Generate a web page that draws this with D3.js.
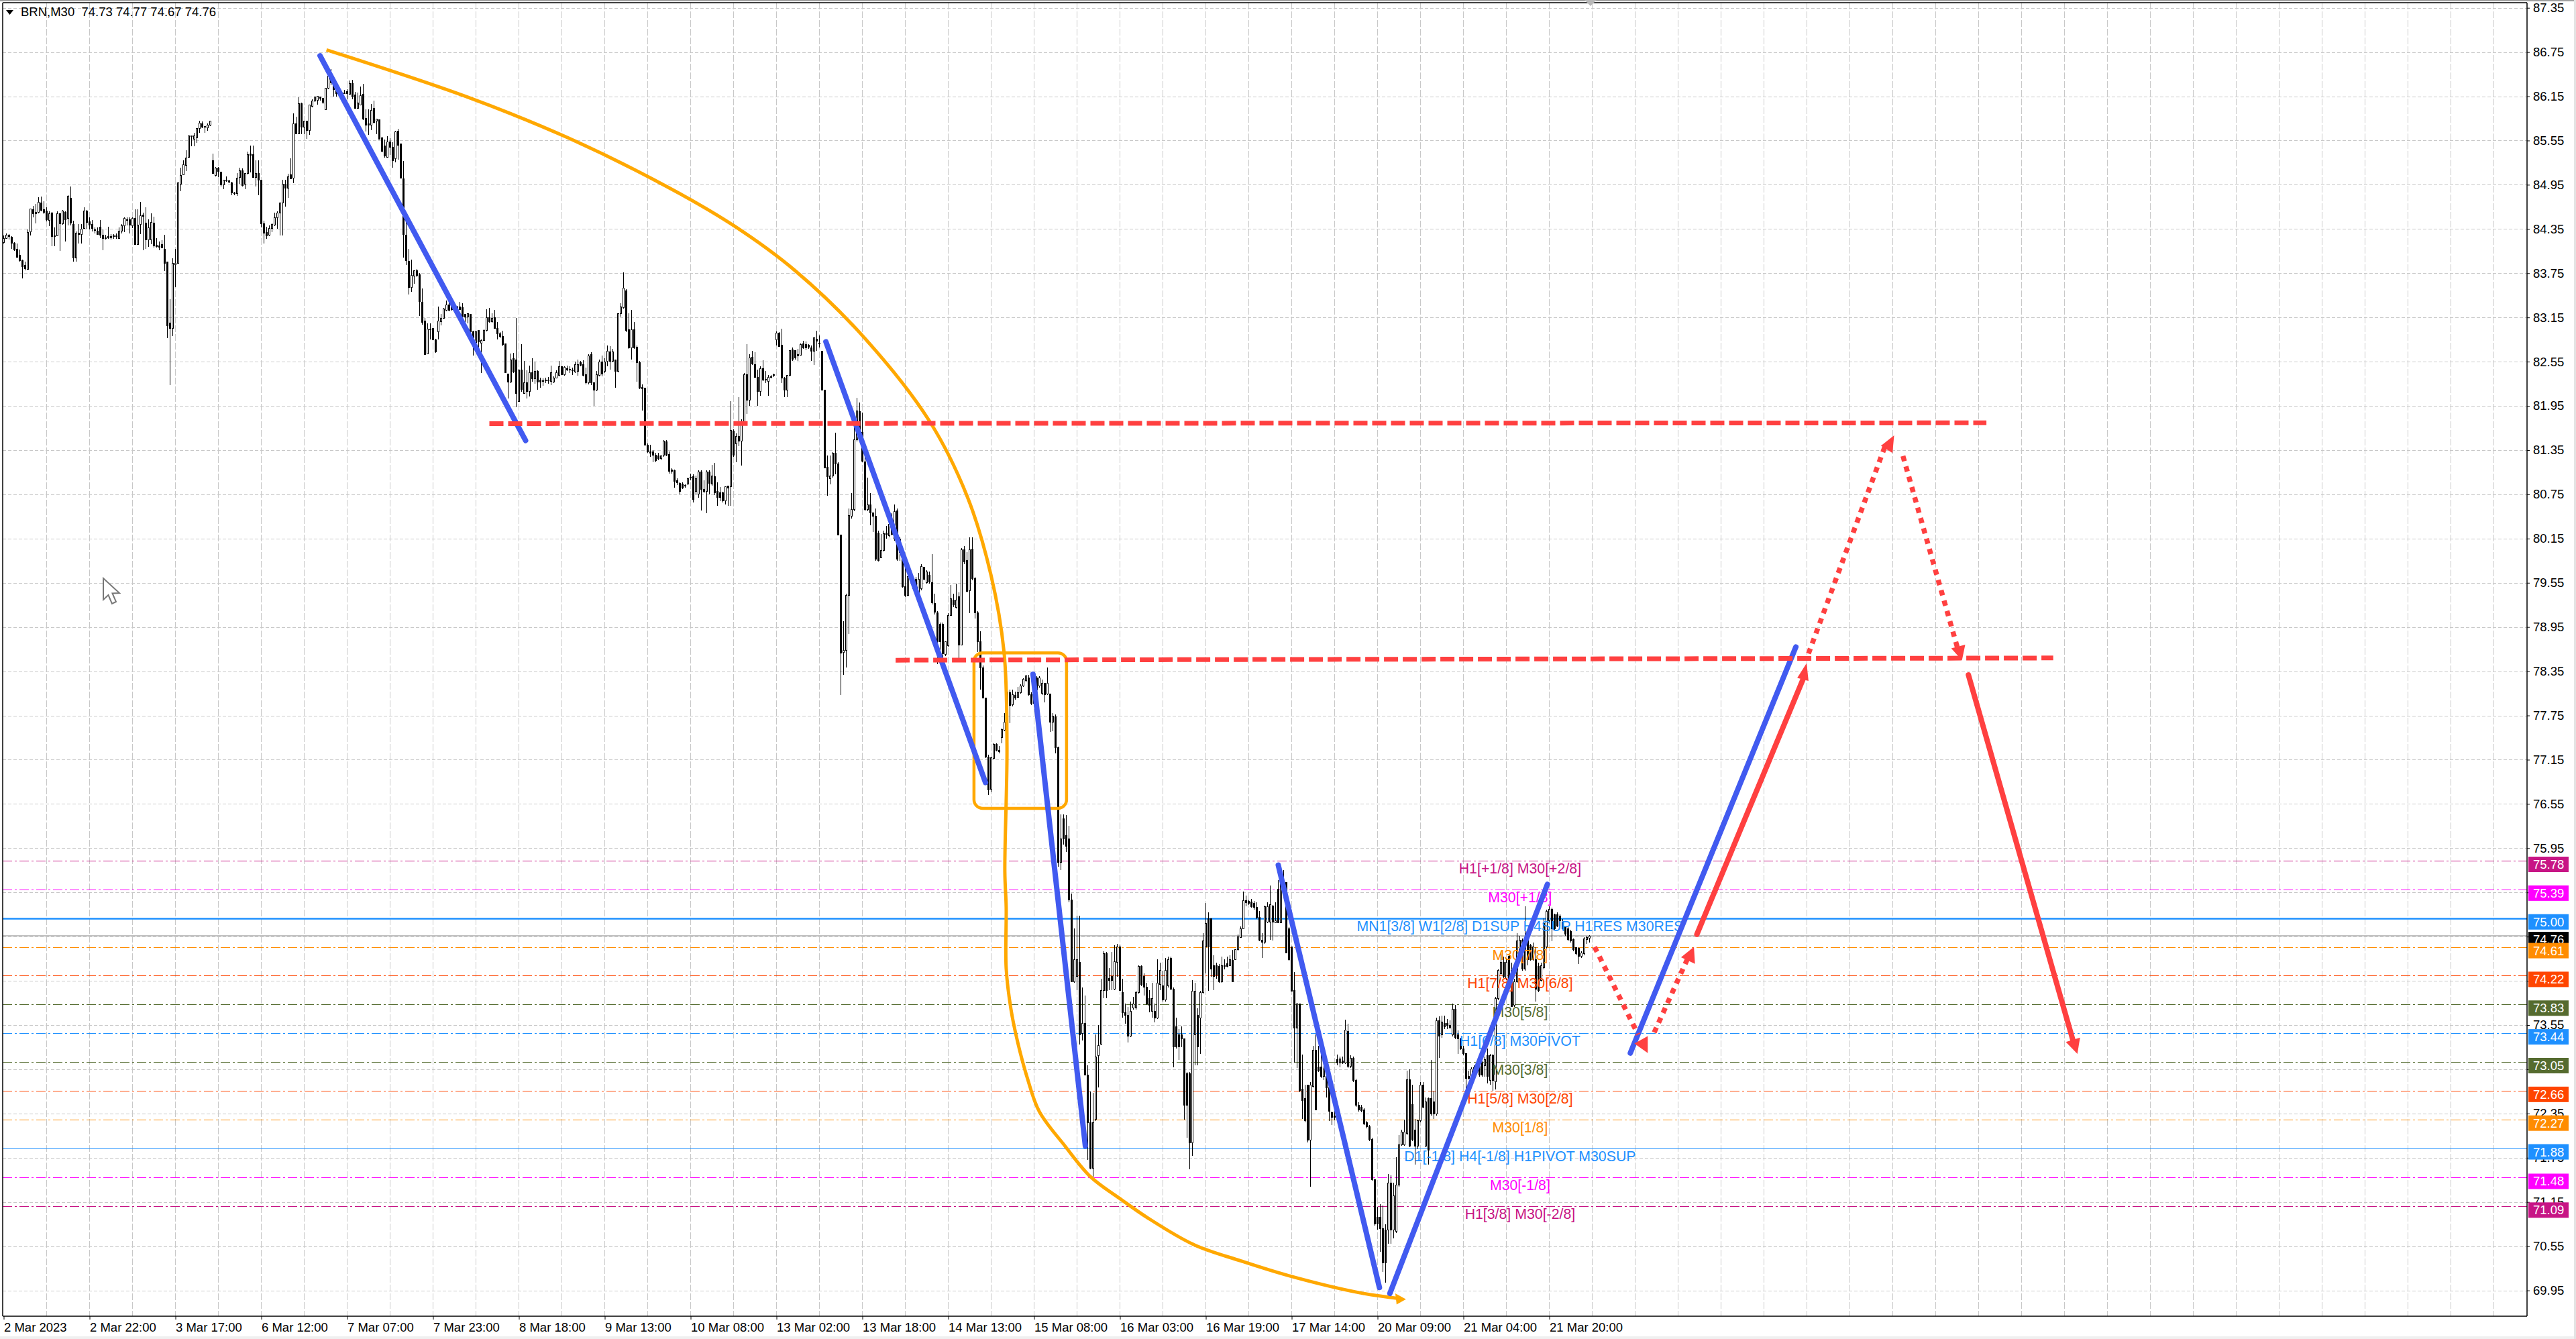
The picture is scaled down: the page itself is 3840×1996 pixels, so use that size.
<!DOCTYPE html>
<html><head><meta charset="utf-8">
<script src="https://cdn.jsdelivr.net/npm/d3@7/dist/d3.min.js"></script>
<style>html,body{margin:0;padding:0;background:#fff}svg{display:block}text{font-family:"Liberation Sans",Arial,sans-serif}</style>
</head><body><div id="c"></div>
<script>
// OHLC in cents: o,h,l,c per M30 bar
const barsMar2to3=[8417,8426,8415,8422,8422,8429,8422,8427,8427,8428,8421,8425,8424,8425,8408,8416,8416,8417,8405,8407,8408,8415,8396,8397,8399,8407,8391,8392,8392,8393,8368,8384,8386,8391,8379,8381,8380,8434,8380,8430,8431,8463,8426,8462,8461,8466,8451,8456,8458,8469,8443,8456,8458,8478,8456,8471,8470,8479,8459,8460,8461,8473,8455,8458,8459,8464,8445,8448,8447,8459,8439,8456,8457,8458,8412,8425,8426,8437,8412,8425,8426,8459,8426,8456,8456,8456,8405,8442,8442,8461,8441,8459,8458,8459,8418,8448,8449,8481,8440,8479,8477,8493,8440,8443,8441,8446,8391,8396,8396,8432,8391,8429,8429,8442,8415,8428,8428,8442,8415,8435,8436,8464,8435,8459,8459,8461,8435,8444,8445,8451,8434,8440,8441,8447,8432,8436,8434,8437,8429,8433,8432,8437,8428,8428,8438,8447,8423,8427,8427,8434,8406,8422,8423,8427,8421,8422,8425,8438,8422,8423,8423,8428,8421,8425,8425,8428,8422,8426,8426,8429,8422,8425,8422,8437,8422,8432,8432,8442,8429,8439,8439,8451,8431,8449,8448,8451,8440,8447,8448,8451,8429,8440,8439,8451,8436,8449,8449,8462,8414,8414,8414,8462,8414,8440,8441,8472,8428,8453,8454,8457,8406,8452,8443,8464,8408,8420,8420,8448,8411,8437,8420,8456,8414,8444,8443,8452,8410,8412,8413,8423,8410,8411,8412,8418,8406,8410,8414,8420,8409,8409,8408,8427,8378,8388,8390,8390,8287,8304,8307,8340,8223,8300,8300,8395,8290,8388,8387,8408,8356,8388,8388,8498,8388,8498,8496,8518,8486,8508,8509,8528,8508,8522,8521,8542,8514,8531,8532,8561,8532,8561,8561,8562,8547,8560,8557,8565,8547,8561,8559,8571,8552,8571,8571,8582,8565,8579,8578,8581,8572,8573,8574,8575,8565,8573,8572,8578,8568,8576,8576,8581,8575,8581];
const barsMar6to10=[8528,8537,8510,8510,8508,8519,8506,8518,8518,8519,8505,8513,8512,8512,8493,8495,8495,8502,8489,8501,8501,8506,8499,8500,8500,8502,8497,8499,8498,8499,8481,8484,8484,8485,8481,8483,8483,8511,8480,8504,8505,8518,8496,8514,8514,8517,8493,8494,8496,8511,8489,8510,8510,8540,8509,8536,8537,8548,8512,8535,8536,8548,8505,8505,8505,8528,8493,8510,8510,8528,8481,8501,8501,8501,8437,8442,8442,8446,8415,8429,8430,8438,8422,8426,8427,8440,8425,8436,8436,8443,8431,8441,8440,8457,8439,8450,8450,8459,8435,8457,8457,8471,8426,8470,8470,8502,8426,8496,8496,8502,8465,8490,8490,8510,8477,8506,8509,8531,8503,8503,8504,8592,8497,8578,8578,8587,8564,8564,8564,8614,8564,8605,8605,8606,8564,8573,8573,8582,8564,8581,8581,8582,8557,8569,8569,8603,8563,8603,8601,8611,8600,8609,8609,8615,8607,8614,8610,8615,8604,8615,8614,8615,8609,8612,8612,8612,8605,8607,8597,8626,8597,8626,8626,8652,8625,8642,8642,8652,8630,8633,8630,8636,8615,8624,8625,8628,8615,8619,8620,8623,8615,8617,8620,8621,8613,8618,8620,8624,8618,8619,8621,8625,8611,8619,8618,8636,8617,8632,8632,8637,8611,8614,8617,8621,8599,8599,8599,8620,8598,8606,8603,8628,8603,8616,8618,8632,8583,8584,8585,8597,8567,8576,8578,8597,8563,8576,8576,8605,8569,8596,8599,8609,8578,8580,8581,8585,8564,8584,8583,8584,8557,8557,8559,8560,8539,8540,8548,8556,8532,8534,8532,8561,8532,8553,8553,8558,8535,8546,8546,8553,8518,8528,8530,8568,8525,8567,8568,8571,8529,8549,8550,8550,8504,8504,8503,8527,8396,8428,8427,8457,8386,8392,8391,8408,8346,8356,8356,8393,8350,8372,8371,8379,8361,8378,8378,8381,8370,8372,8373,8375,8317,8337,8336,8354,8305,8308,8310,8314,8265,8265,8266,8307,8266,8299,8298,8307,8285,8299,8300,8301,8284,8285,8285,8286,8267,8268,8296,8330,8285,8310,8309,8320,8304,8314,8314,8328,8313,8327,8325,8338,8323,8332,8332,8336,8323,8325,8331,8337,8324,8326,8329,8332,8326,8327,8327,8331,8325,8329,8329,8336,8325,8326,8328,8334,8311,8316,8319,8320,8308,8316,8316,8320,8307,8320,8319,8320,8285,8296,8296,8297,8263,8287,8281,8297,8273,8296,8297,8297,8273,8282,8280,8285,8240,8284,8284,8299,8283,8297,8297,8326,8296,8315,8315,8328,8308,8309,8309,8321,8308,8314,8315,8325,8300,8300,8300,8309,8285,8293,8293,8295,8287,8289,8289,8297,8276,8278,8279,8280,8240,8240,8238,8238,8205,8227,8227,8266,8226,8257,8259,8267,8240,8241,8257,8314,8193,8212,8201,8244,8201,8244,8244,8279,8214,8217,8212,8256,8211,8226,8226,8243,8205,8215,8215,8250,8208,8240,8240,8260,8228,8232,8232,8255,8225,8242,8242,8243,8217,8227,8230,8233,8220,8227,8229,8232,8222,8228,8229,8233,8226,8230,8230,8234,8225,8229,8228,8250,8223,8240,8227,8235,8226,8233,8233,8243,8232,8240,8236,8256,8235,8248,8248,8249,8237,8237,8237,8249,8236,8247,8246,8250,8242,8244,8245,8249,8240,8244,8244,8247,8237,8243,8241,8255,8240,8251,8242,8258,8236,8251,8254,8256,8249,8250,8251,8257,8235,8236,8237,8247,8224,8226,8226,8265,8224,8263,8265,8268,8223,8226,8226,8226,8195,8216,8216,8242,8215,8237,8236,8258,8235,8255,8255,8263,8235,8238,8242,8260,8240,8255,8256,8277,8249,8269,8268,8276,8244,8256,8256,8272,8254,8268,8257,8257,8220,8242,8242,8321,8241,8320,8320,8334,8316,8329,8328,8376,8327,8355,8351,8353,8295,8297,8298,8321,8272,8274,8274,8325,8258,8298,8298,8309,8272,8274,8275,8277,8228,8254,8254,8256,8218,8219,8220,8224,8189,8218,8219,8219,8142,8142,8142,8144,8131,8133,8133,8142,8126,8131,8133,8135,8119,8128,8128,8131,8119,8121,8127,8131,8121,8124,8124,8128,8121,8127,8128,8149,8126,8147,8146,8149,8127,8128,8129,8133,8103,8106,8108,8110,8103,8106,8107,8109,8084,8093,8094,8097,8088,8091,8090,8091,8075,8079,8089,8091,8082,8084,8087,8089,8084,8086,8089,8098,8088,8096,8097,8103,8094,8098,8099,8102,8064,8068,8079,8100,8075,8096,8075,8108,8070,8105,8105,8108,8053,8082,8082,8094,8077,8079,8079,8108,8049,8105,8105,8108,8075,8090,8089,8115,8087,8100,8099,8118,8074,8077,8079,8091,8059,8071,8077,8085,8066,8071,8077,8079,8064,8066,8066,8085,8061,8085,8086,8087,8059,8084,8085,8201,8059,8162,8161,8163,8126,8128,8144,8158,8119,8154,8154,8207,8140,8147,8147,8177,8114,8174,8174,8240,8172,8237,8237,8279,8184,8203,8203,8265,8195,8260,8261,8270,8251,8252,8251,8268,8233,8234,8234,8244,8195,8215,8215,8249,8209,8246,8246,8257,8229,8230,8231,8242,8226,8230,8228,8237,8209,8234,8235,8237,8232,8234,8236,8239,8234,8237];
const barsMar13to17=[8285,8296,8277,8294,8294,8295,8275,8276,8277,8300,8226,8233,8233,8234,8207,8216,8216,8237,8207,8236,8236,8271,8235,8270,8271,8274,8256,8258,8270,8271,8258,8260,8265,8272,8256,8263,8264,8280,8263,8278,8279,8283,8272,8274,8278,8282,8271,8274,8277,8279,8272,8275,8274,8277,8256,8269,8269,8288,8251,8287,8286,8297,8270,8283,8280,8291,8274,8279,8269,8270,8216,8216,8216,8216,8110,8111,8112,8128,8073,8099,8096,8128,8089,8100,8100,8132,8098,8131,8131,8159,8102,8116,8116,8119,8020,8020,8020,8020,7803,7860,7861,7903,7830,7863,7863,7940,7840,7938,7938,8056,7886,8046,8045,8077,8042,8054,8054,8168,8052,8149,8149,8206,8147,8188,8187,8200,8149,8152,8159,8186,8119,8120,8119,8126,8052,8054,8054,8098,8052,8061,8061,8077,8033,8050,8050,8050,8024,8045,8045,8056,7985,7987,8023,8026,7984,7985,7989,8021,7988,7999,7999,8026,7998,8022,8023,8032,8015,8020,8019,8039,8017,8034,8033,8049,8019,8021,8014,8061,8012,8052,8053,8056,7985,7987,8014,8017,7985,7996,8001,8003,7948,7950,7950,7987,7936,7938,7938,7977,7937,7963,7963,7972,7956,7960,7960,7963,7945,7947,7960,7963,7950,7951,7942,7968,7940,7960,7947,7980,7945,7977,7976,7977,7958,7960,7955,7972,7954,7970,7965,7970,7954,7956,7955,7994,7926,7928,7927,7940,7912,7915,7914,7917,7845,7875,7899,7901,7859,7875,7899,7901,7847,7859,7858,7875,7856,7875,7870,7914,7868,7911,7911,7952,7910,7933,7932,7940,7922,7925,7922,7954,7920,7932,7936,7942,7851,7871,7871,8002,7870,8000,8000,8005,7980,7983,7985,7997,7942,7943,7944,8017,7914,8000,8001,8017,7958,7961,7961,7963,7907,7914,7914,7917,7861,7875,7875,7889,7810,7840,7840,7843,7799,7799,7799,7799,7717,7719,7719,7722,7667,7674,7675,7719,7671,7718,7717,7737,7715,7736,7736,7737,7726,7728,7728,7734,7724,7726,7745,7757,7737,7756,7755,7778,7754,7766,7764,7815,7763,7807,7806,7810,7765,7789,7790,7810,7787,7803,7802,7807,7796,7799,7800,7814,7799,7806,7806,7817,7805,7815,7815,7826,7814,7824,7822,7830,7820,7829,7826,7830,7802,7803,7803,7806,7789,7791,7791,7826,7789,7805,7826,7828,7805,7810,7815,7828,7813,7826,7805,7824,7803,7819,7819,7819,7793,7803,7804,7840,7803,7819,7804,7805,7753,7766,7766,7778,7754,7774,7773,7776,7724,7731,7731,7733,7570,7576,7576,7641,7565,7608,7635,7641,7600,7608,7612,7640,7590,7598,7608,7625,7522,7525,7525,7533,7414,7414,7414,7486,7412,7444,7421,7503,7402,7444,7440,7503,7329,7342,7344,7406,7334,7357,7357,7395,7287,7287,7287,7300,7172,7223,7223,7265,7159,7161,7161,7263,7149,7223,7227,7342,7225,7312,7314,7355,7270,7327,7329,7418,7328,7402,7402,7455,7391,7452,7452,7454,7391,7402,7418,7432,7402,7416,7421,7454,7402,7416,7404,7463,7402,7441,7440,7465,7421,7461,7461,7464,7401,7402,7399,7418,7365,7372,7372,7384,7357,7368,7368,7380,7331,7340,7340,7387,7339,7374,7378,7393,7376,7384,7378,7401,7376,7399,7399,7436,7398,7435,7435,7436,7408,7410,7421,7425,7395,7406,7406,7412,7382,7384,7391,7402,7372,7382,7374,7412,7365,7391,7374,7384,7359,7365,7365,7444,7363,7412,7410,7440,7402,7429,7408,7429,7387,7389,7389,7446,7387,7429,7408,7448,7406,7444,7446,7448,7402,7404,7404,7406,7298,7325,7353,7365,7323,7325,7342,7350,7308,7325,7342,7353,7325,7336,7336,7337,7227,7246,7289,7291,7202,7246,7289,7291,7159,7195,7195,7416,7178,7401,7342,7412,7300,7401,7368,7378,7300,7325,7365,7401,7316,7399,7399,7480,7398,7469,7461,7521,7425,7493,7499,7508,7401,7461,7499,7499,7421,7431,7436,7450,7402,7421,7436,7440,7418,7423,7435,7438,7412,7414,7414,7448,7412,7436,7436,7444,7431,7435,7438,7448,7433,7435,7436,7450,7435,7444,7443,7457,7414,7414,7444,7458,7443,7457,7457,7478,7456,7475,7474,7489,7473,7486,7486,7536,7485,7524,7524,7531,7516,7521,7523,7525,7518,7520,7522,7526,7514,7516,7520,7523,7512,7515,7515,7522,7499,7501,7501,7510,7469,7470,7470,7480,7446,7467,7467,7517,7465,7516,7495,7522,7493,7516,7495,7544,7471,7518,7517,7518,7470,7495,7494,7522,7493,7497,7539,7552,7493,7494,7494,7551,7493,7548,7539,7565,7537,7548,7548,7548,7452,7453,7486,7488,7442,7444,7461,7461,7401,7401,7402,7427,7304,7351,7351,7385,7297,7384,7384,7384,7264,7266,7268,7315,7228,7253,7255,7274,7223,7225,7274,7274,7196,7199,7199,7278,7136,7274,7272,7327,7270,7321,7321,7342,7240,7240,7298,7327,7291,7293,7298,7315,7283,7285,7285,7308,7280,7295,7285,7295,7257,7270,7270,7274,7225,7238,7236,7238,7219,7230,7232,7244,7226,7230];
const barsMar20to21=[7308,7315,7300,7304,7304,7312,7298,7309,7306,7312,7302,7304,7304,7362,7302,7348,7346,7357,7297,7299,7299,7314,7297,7310,7310,7312,7278,7280,7280,7282,7244,7246,7246,7250,7238,7240,7244,7247,7237,7239,7240,7242,7219,7221,7223,7225,7215,7217,7217,7219,7198,7200,7200,7202,7144,7145,7145,7146,7083,7085,7094,7108,7077,7085,7094,7112,7047,7079,7079,7110,7020,7032,7077,7085,7006,7032,7077,7153,7058,7141,7141,7151,7058,7077,7077,7141,7066,7123,7075,7176,7073,7138,7138,7206,7136,7193,7193,7213,7191,7210,7193,7227,7191,7210,7208,7293,7206,7281,7281,7295,7189,7191,7247,7274,7198,7200,7213,7228,7166,7191,7191,7227,7187,7225,7225,7278,7223,7274,7274,7278,7242,7244,7191,7257,7189,7251,7255,7257,7166,7185,7255,7308,7232,7234,7251,7266,7228,7234,7234,7365,7232,7361,7361,7367,7310,7340,7342,7368,7338,7359,7357,7368,7350,7353,7357,7363,7350,7355,7355,7361,7350,7352,7342,7384,7340,7376,7376,7382,7336,7338,7342,7348,7316,7336,7336,7338,7321,7323,7323,7327,7314,7316,7316,7317,7266,7283,7285,7293,7281,7283,7283,7298,7281,7295,7289,7300,7287,7297,7297,7302,7289,7293,7304,7306,7285,7287,7304,7306,7285,7287,7300,7312,7285,7308,7314,7323,7276,7285,7280,7316,7274,7314,7314,7316,7266,7280,7278,7393,7268,7391,7391,7431,7389,7429,7425,7455,7423,7440,7440,7448,7419,7421,7418,7446,7416,7440,7448,7450,7401,7418,7429,7440,7380,7380,7382,7418,7380,7414,7414,7480,7412,7469,7444,7476,7442,7470,7470,7472,7429,7431,7431,7516,7429,7463,7472,7478,7436,7444,7463,7465,7442,7444,7444,7467,7442,7461,7444,7461,7387,7404,7435,7440,7400,7402,7416,7440,7414,7436,7433,7500,7431,7493,7461,7512,7459,7509,7497,7516,7495,7512,7512,7514,7469,7486,7505,7506,7484,7486,7505,7508,7488,7489,7503,7505,7489,7497,7495,7499,7484,7486,7488,7489,7476,7478,7486,7488,7469,7471,7482,7484,7467,7469,7471,7472,7455,7457,7460,7461,7450,7452,7459,7461,7438,7448,7448,7455,7446,7453,7452,7474,7450,7472,7471,7476,7465,7474,7473,7477,7467,7476];

const priceTicks=[87.35,86.75,86.15,85.55,84.95,84.35,83.75,83.15,82.55,81.95,81.35,80.75,80.15,79.55,78.95,78.35,77.75,77.15,76.55,75.95,75.35,74.75,74.15,73.55,72.95,72.35,71.75,71.15,70.55,69.95];
const timeLabels=["2 Mar 2023","2 Mar 22:00","3 Mar 17:00","6 Mar 12:00","7 Mar 07:00","7 Mar 23:00","8 Mar 18:00","9 Mar 13:00","10 Mar 08:00","13 Mar 02:00","13 Mar 18:00","14 Mar 13:00","15 Mar 08:00","16 Mar 03:00","16 Mar 19:00","17 Mar 14:00","20 Mar 09:00","21 Mar 04:00","21 Mar 20:00"];
const levelPrices=[75.78,75.39,75.00,74.61,74.22,73.83,73.44,73.05,72.66,72.27,71.88,71.48,71.09];
const levelColors=["#C71585","#FF00FF","#1E90FF","#FF8C00","#FF4500","#556B2F","#1E90FF","#556B2F","#FF4500","#FF8C00","#1E90FF","#FF00FF","#C71585"];
const levelTexts=["H1[+1/8] M30[+2/8]","M30[+1/8]","MN1[3/8] W1[2/8] D1SUP H4SUP H1RES M30RES","M30[7/8]","H1[7/8] M30[6/8]","M30[5/8]","H1[6/8] M30PIVOT","M30[3/8]","H1[5/8] M30[2/8]","M30[1/8]","D1[-1/8] H4[-1/8] H1PIVOT M30SUP","M30[-1/8]","H1[3/8] M30[-2/8]"];
const lastPrice=74.76;
const headerText="BRN,M30  74.73 74.77 74.67 74.76";

// drawn objects, as [bar index, price]
const blueLines=[[[117.9,86.70],[194.5,81.48]],[[306.4,82.82],[365.9,76.84]],[[383.6,78.31],[403.1,71.91]],[[475,75.72],[512.7,69.99]],[[516.6,69.91],[575.3,75.46]],[[606.2,73.17],[667.9,78.68]]];
const redDashed=[[[181,81.71],[738.9,81.72]],[[332.4,78.50],[763.8,78.53]]];
const redSolid=[[[631,74.78],[671.0,78.28]],[[732.2,78.30],[771.1,73.35]]];
const redDotted=[[[592.9,74.61],[609.1,73.42]],[[615.1,73.45],[627.4,74.44]],[[672.6,78.59],[701.1,81.40]],[[707.8,81.27],[728.1,78.67]]];
const redHeads=[[[671.9,78.46],[668.4,78.26],[672.6,78.22]],[[772.8,73.16],[768.5,73.32],[773.8,73.38]],[[607.7,73.30],[612.7,73.40],[612.7,73.17]],[[629.9,74.61],[625.1,74.47],[630.3,74.38]],[[704.5,81.55],[699.6,81.41],[703.9,81.31]],[[729.8,78.50],[725.8,78.66],[731,78.71]]];
const orangeCurve=[[120.3,86.78],[172.8,86.14],[210.1,85.59],[247.4,84.92],[272.3,84.39],[295.1,83.78],[320.1,82.90],[344.9,81.75],[359.1,80.72],[367.9,79.66],[372.8,78.61],[373.9,77.34],[373.1,75.63],[373.6,75.15],[373.6,74.32],[375.4,73.76],[378,73.30],[381.5,72.83],[385.9,72.38],[395.5,71.91],[405.1,71.49],[416.6,71.18],[426.1,70.94],[443.6,70.57],[461.1,70.35],[478.9,70.15],[505.1,69.92],[520.1,69.84]];
const orangeHead=[[522.6,69.83],[518.6,69.91],[519.1,69.76]];
const orangeBox=[361.6,78.60,396.1,76.49];

const allBars=[...barsMar2to3,...barsMar6to10,...barsMar13to17,...barsMar20to21];
const bars=d3.range(0,allBars.length,4).map((k,i)=>({i,o:allBars[k]/100,h:allBars[k+1]/100,l:allBars[k+2]/100,c:allBars[k+3]/100}));

const W=3840,H=1996,LEFT=4,RIGHT=3767,TOP=4,BOTTOM=1962;
const x=d3.scaleLinear().domain([0,1]).range([5.5,9.5]);
const y=d3.scaleLinear().domain([87.35,69.95]).range([11.7,1923.6]);
const snap=v=>Math.round(v)+.5;
const svg=d3.select("#c").append("svg").attr("width",W).attr("height",H).attr("viewBox",`0 0 ${W} ${H}`);
svg.append("rect").attr("width",W).attr("height",H).attr("fill","#fff");
svg.append("rect").attr("y",1992).attr("width",W).attr("height",4).attr("fill","#f0f0f0");
svg.append("rect").attr("width",W).attr("height",2).attr("fill","#a0a0a0");
svg.append("rect").attr("x",3837).attr("width",3).attr("height",H).attr("fill","#e4e4e4");

// grid
const grid=svg.append("g").attr("stroke","#c8c8c8").attr("stroke-width",1);
grid.selectAll("line.h").data(priceTicks).join("line").attr("x1",LEFT).attr("x2",RIGHT).attr("y1",d=>snap(y(d))).attr("y2",d=>snap(y(d))).attr("stroke-dasharray","5 3");
grid.selectAll("line.v").data(d3.range(1,59).map(k=>k*16)).join("line").attr("x1",d=>x(d)).attr("x2",d=>x(d)).attr("y1",TOP).attr("y2",BOTTOM).attr("stroke-dasharray","10 3");

// last price line and levels
svg.append("line").attr("x1",LEFT).attr("x2",RIGHT).attr("y1",y(lastPrice)).attr("y2",y(lastPrice)).attr("stroke","#c0c0c0").attr("stroke-width",2);
svg.append("g").selectAll("line").data(levelPrices).join("line")
 .attr("x1",LEFT).attr("x2",RIGHT).attr("y1",d=>snap(y(d))).attr("y2",d=>snap(y(d)))
 .attr("stroke",(d,i)=>levelColors[i])
 .attr("stroke-width",d=>d===75?2.5:1)
 .attr("stroke-dasharray",d=>(d===75||d===71.88)?null:"14 4 3 4");

// candles
const cg=svg.append("g").attr("shape-rendering","crispEdges");
cg.selectAll("line").data(bars).join("line").attr("x1",d=>x(d.i)).attr("x2",d=>x(d.i)).attr("y1",d=>y(d.h)).attr("y2",d=>y(d.l)).attr("stroke","#000");
cg.selectAll("rect").data(bars).join("rect")
 .attr("x",d=>x(d.i)-1).attr("width",2)
 .attr("y",d=>y(Math.max(d.o,d.c))).attr("height",d=>Math.max(1,Math.abs(y(d.o)-y(d.c))))
 .attr("fill",d=>d.c>=d.o?"#fff":"#000").attr("stroke","#000");

// level labels
svg.append("g").attr("font-size",21.3).attr("text-anchor","middle").selectAll("text").data(levelTexts).join("text")
 .attr("x",x(565.1)).attr("y",(d,i)=>y(levelPrices[i])+19).attr("fill",(d,i)=>levelColors[i]).text(d=>d);

// orange objects
const line=d3.line().x(d=>x(d[0])).y(d=>y(d[1]));
svg.append("rect").attr("x",x(orangeBox[0])).attr("y",y(orangeBox[1])).attr("width",x(orangeBox[2])-x(orangeBox[0])).attr("height",y(orangeBox[3])-y(orangeBox[1])).attr("rx",13).attr("fill","none").attr("stroke","#FFA800").attr("stroke-width",4.5);
svg.append("path").attr("d",line.curve(d3.curveCatmullRom.alpha(.5))(orangeCurve)).attr("fill","none").attr("stroke","#FFA800").attr("stroke-width",5);
line.curve(d3.curveLinear);
svg.append("path").attr("d",line(orangeHead)+"Z").attr("fill","#FFA800");

// blue
svg.append("g").selectAll("path").data(blueLines).join("path").attr("d",line).attr("fill","none").attr("stroke","#415AF0").attr("stroke-width",8).attr("stroke-linecap","round");
// red
svg.append("g").selectAll("path").data(redDashed).join("path").attr("d",line).attr("fill","none").attr("stroke","#FF4040").attr("stroke-width",7).attr("stroke-dasharray","21 7");
svg.append("g").selectAll("path").data(redSolid).join("path").attr("d",line).attr("fill","none").attr("stroke","#FF4040").attr("stroke-width",8).attr("stroke-linecap","round");
svg.append("g").selectAll("path").data(redDotted).join("path").attr("d",line).attr("fill","none").attr("stroke","#FF4040").attr("stroke-width",7.5).attr("stroke-dasharray","8 8");
svg.append("g").selectAll("path").data(redHeads).join("path").attr("d",d=>line(d)+"Z").attr("fill","#FF4040");

// frame
const frame=svg.append("g").attr("stroke","#000").attr("stroke-width",1.5);
frame.append("line").attr("x1",LEFT).attr("x2",RIGHT).attr("y1",TOP).attr("y2",TOP);
frame.append("line").attr("x1",LEFT).attr("x2",LEFT).attr("y1",TOP).attr("y2",BOTTOM);
frame.append("line").attr("x1",RIGHT).attr("x2",RIGHT).attr("y1",TOP).attr("y2",BOTTOM);
frame.append("line").attr("x1",LEFT).attr("x2",RIGHT).attr("y1",BOTTOM).attr("y2",BOTTOM);

// axes
const yAxis=d3.axisRight(y).tickValues(priceTicks).tickSize(4).tickPadding(5).tickFormat(d3.format(".2f"));
const ya=svg.append("g").attr("transform",`translate(${RIGHT},0)`).call(yAxis);
ya.select(".domain").remove();ya.selectAll("text").attr("font-size",18.5).attr("font-family",'"Liberation Sans"').attr("fill","#000");
ya.selectAll("line").attr("stroke","#000");
const xAxis=d3.axisBottom(x).tickValues(timeLabels.map((d,i)=>i*32)).tickSize(5).tickPadding(5).tickFormat((d,i)=>timeLabels[i]);
const xa=svg.append("g").attr("transform",`translate(0,${BOTTOM})`).call(xAxis);
xa.select(".domain").remove();xa.selectAll("text").attr("font-size",18.5).attr("font-family",'"Liberation Sans"').attr("fill","#000").attr("text-anchor","start");
xa.selectAll("line").attr("stroke","#000");

// price tags
const tags=[{p:lastPrice,c:"#000"},...levelPrices.map((p,i)=>({p,c:levelColors[i]}))];
const tg=svg.append("g").selectAll("g").data(tags).join("g").attr("transform",d=>`translate(3769,${y(d.p)-6})`);
tg.append("rect").attr("width",60).attr("height",23).attr("fill",d=>d.c);
tg.append("text").attr("x",7).attr("y",18).attr("font-size",18.5).attr("fill","#fff").text(d=>d.p.toFixed(2));

// header
svg.append("path").attr("d",d3.line()([[9,15],[20,15],[14.5,22]])+"Z").attr("fill","#000");
svg.append("text").attr("x",31).attr("y",24).attr("font-size",18.5).attr("fill","#000").attr("xml:space","preserve").text(headerText);
// scroll marker and mouse cursor
svg.append("path").attr("d",d3.line()([[2362,0],[2380,0],[2371,9]])+"Z").attr("fill","#b8b8b8");
svg.append("path").attr("d","M154 862 L154 894 L161.500 887 L167 900 L173 897 L167.500 884.500 L178 884 Z").attr("fill","#fff").attr("stroke","#777").attr("stroke-width",2);
</script></body></html>
